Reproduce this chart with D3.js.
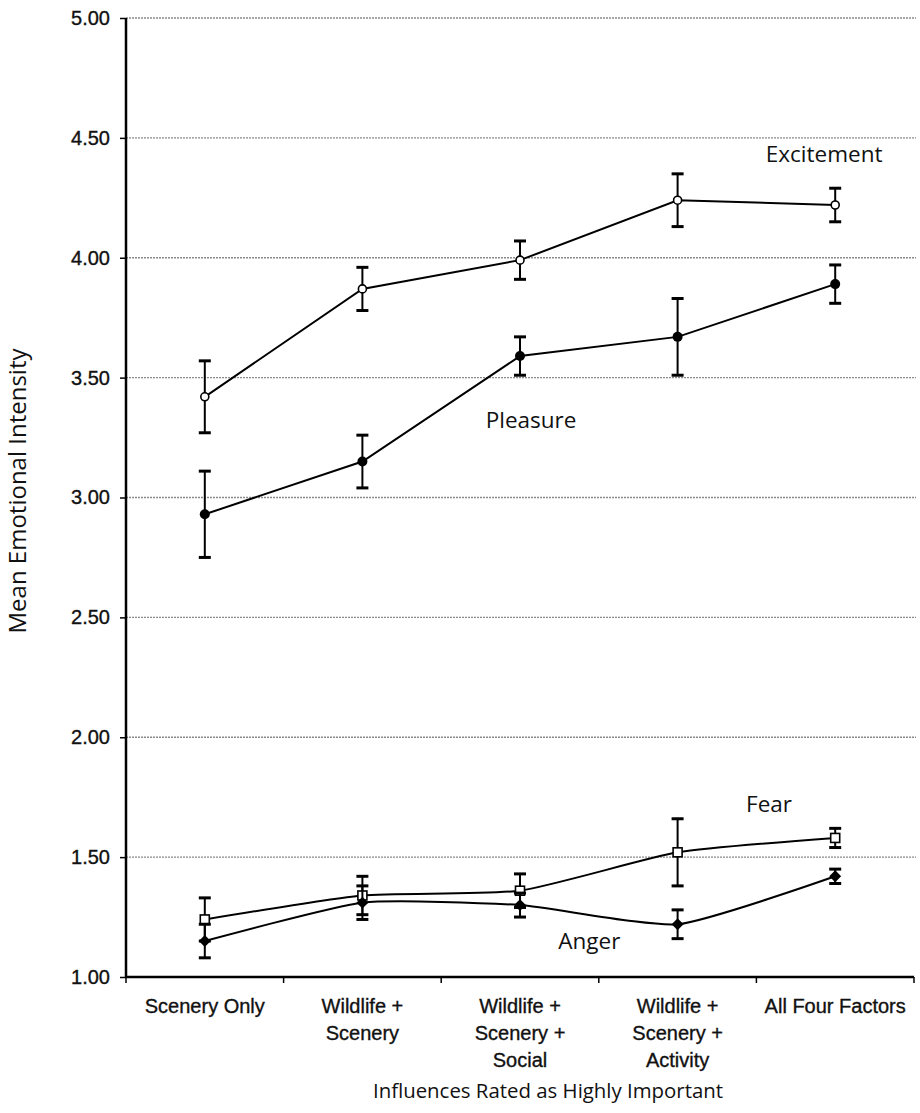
<!DOCTYPE html>
<html>
<head>
<meta charset="utf-8">
<script src="https://cdn.jsdelivr.net/npm/d3@7"></script>
<style>
  html, body { margin: 0; padding: 0; background: #fff; }
  svg text { font-family: "Liberation Sans", Arial, sans-serif; fill: #111; }
  .tick-label { stroke: #111; stroke-width: 0.35px; }
  .series-label, .axis-title { font-family: "Open Sans", "Noto Sans", sans-serif; }
</style>
</head>
<body>
<div id="chart"></div>
<script>
const categories = [
  ["Scenery Only"],
  ["Wildlife +", "Scenery"],
  ["Wildlife +", "Scenery +", "Social"],
  ["Wildlife +", "Scenery +", "Activity"],
  ["All Four Factors"]
];
const yTicks = [1.0, 1.5, 2.0, 2.5, 3.0, 3.5, 4.0, 4.5, 5.0];

const excitement = [3.42, 3.87, 3.99, 4.24, 4.22];
const excitementErr = [0.15, 0.09, 0.08, 0.11, 0.07];
const pleasure = [2.93, 3.15, 3.59, 3.67, 3.89];
const pleasureErr = [0.18, 0.11, 0.08, 0.16, 0.08];
const fear = [1.24, 1.34, 1.36, 1.52, 1.58];
const fearErr = [0.09, 0.08, 0.07, 0.14, 0.04];
const anger = [1.15, 1.31, 1.30, 1.22, 1.42];
const angerErr = [0.07, 0.07, 0.05, 0.06, 0.03];

const series = [
  { name: "Excitement", values: excitement, err: excitementErr, marker: "openCircle", smooth: false, label: [3.93, 4.40] },
  { name: "Pleasure", values: pleasure, err: pleasureErr, marker: "circle", smooth: false, label: [2.07, 3.29] },
  { name: "Fear", values: fear, err: fearErr, marker: "openSquare", smooth: true, label: [3.58, 1.69] },
  { name: "Anger", values: anger, err: angerErr, marker: "diamond", smooth: true, label: [2.44, 1.115] }
];

const W = 920, H = 1113;
const margin = { top: 18, right: 6, bottom: 136, left: 126 };
const width = W - margin.left - margin.right;
const height = H - margin.top - margin.bottom;

const svg = d3.select("#chart").append("svg")
  .attr("width", W).attr("height", H);
const g = svg.append("g").attr("transform", `translate(${margin.left},${margin.top})`);

const x = d3.scaleBand().domain(d3.range(categories.length)).range([0, width]).padding(0);
const xc = i => x(i) + x.bandwidth() / 2;
const xPos = d3.scaleLinear().domain([0, categories.length - 1]).range([xc(0), xc(categories.length - 1)]);
const y = d3.scaleLinear().domain([1, 5]).range([height, 0]);

// gridlines
g.selectAll(".grid").data(yTicks.filter(t => t > 1)).enter().append("line")
  .attr("x1", 0).attr("x2", width + 2)
  .attr("y1", d => y(d)).attr("y2", d => y(d))
  .attr("stroke", "#8a8a8a").attr("stroke-width", 1.3)
  .attr("stroke-dasharray", "2,1");

// y axis
const yAxis = g.append("g").call(d3.axisLeft(y).tickValues(yTicks).tickFormat(d3.format(".2f")).tickSize(6).tickPadding(10));
yAxis.select(".domain").attr("stroke-width", 2.5).attr("d", `M0,0V${height}`);
yAxis.selectAll(".tick line").attr("stroke-width", 1.5);
yAxis.selectAll("text").attr("class", "tick-label").attr("font-size", 20)
  .attr("font-family", "Liberation Sans, Arial, sans-serif").attr("fill", "#111");

// x axis
g.append("line").attr("x1", 0).attr("x2", width).attr("y1", height).attr("y2", height)
  .attr("stroke", "#000").attr("stroke-width", 2.5);
const bounds = categories.map((c, i) => x(i)).concat([x(categories.length - 1) + x.bandwidth()]);
g.selectAll(".xtick").data(bounds).enter().append("line")
  .attr("x1", d => d).attr("x2", d => d).attr("y1", height).attr("y2", height + 6)
  .attr("stroke", "#000").attr("stroke-width", 1.5);
const xl = g.selectAll(".xlabel").data(categories).enter().append("text")
  .attr("class", "tick-label")
  .attr("text-anchor", "middle").attr("font-size", 20)
  .attr("transform", (d, i) => `translate(${xc(i)},${height + 36})`);
xl.selectAll("tspan").data(d => d).enter().append("tspan")
  .attr("x", 0).attr("dy", (d, i) => i === 0 ? 0 : 27).text(d => d);

// lines
const lineLinear = d3.line().x((d, i) => xc(i)).y(d => y(d));
const lineSmooth = d3.line().x((d, i) => xc(i)).y(d => y(d)).curve(d3.curveCardinal.tension(0.45));

series.forEach(s => {
  g.append("path").datum(s.values)
    .attr("d", s.smooth ? lineSmooth : lineLinear)
    .attr("fill", "none").attr("stroke", "#000").attr("stroke-width", 2);

  // error bars
  const eb = g.append("g");
  s.values.forEach((v, i) => {
    const cx = xc(i), lo = y(v - s.err[i]), hi = y(v + s.err[i]);
    eb.append("line").attr("x1", cx).attr("x2", cx).attr("y1", lo).attr("y2", hi)
      .attr("stroke", "#000").attr("stroke-width", 2);
    [lo, hi].forEach(yy => eb.append("line").attr("x1", cx - 6).attr("x2", cx + 6)
      .attr("y1", yy).attr("y2", yy).attr("stroke", "#000").attr("stroke-width", 3));
  });

  // markers
  const m = g.append("g");
  s.values.forEach((v, i) => {
    const cx = xc(i), cy = y(v);
    if (s.marker === "openCircle") {
      m.append("circle").attr("cx", cx).attr("cy", cy).attr("r", 4)
        .attr("fill", "#fff").attr("stroke", "#000").attr("stroke-width", 1.6);
    } else if (s.marker === "circle") {
      m.append("circle").attr("cx", cx).attr("cy", cy).attr("r", 5).attr("fill", "#000");
    } else if (s.marker === "openSquare") {
      m.append("rect").attr("x", cx - 4.5).attr("y", cy - 4.5).attr("width", 9).attr("height", 9)
        .attr("fill", "#fff").attr("stroke", "#000").attr("stroke-width", 1.6);
    } else {
      m.append("path").attr("transform", `translate(${cx},${cy})`)
        .attr("d", d3.symbol(d3.symbolDiamond2, 90)()).attr("fill", "#000");
    }
  });

  g.append("text").attr("class", "series-label")
    .attr("x", xPos(s.label[0])).attr("y", y(s.label[1]))
    .attr("text-anchor", "middle").attr("font-size", 22.5).text(s.name);
});

// axis titles
svg.append("text").attr("class", "axis-title")
  .attr("transform", `translate(26,491) rotate(-90)`)
  .attr("text-anchor", "middle").attr("font-size", 24).text("Mean Emotional Intensity");
svg.append("text").attr("class", "axis-title")
  .attr("x", margin.left + width / 2 + 28).attr("y", 1098)
  .attr("text-anchor", "middle").attr("font-size", 20.4).text("Influences Rated as Highly Important");
</script>
</body>
</html>
